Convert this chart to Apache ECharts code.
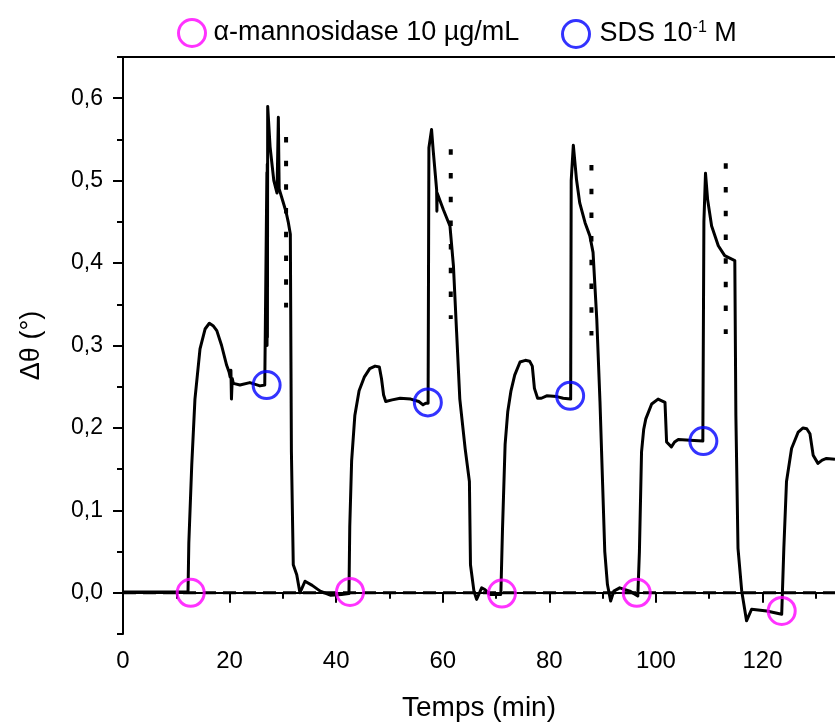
<!DOCTYPE html>
<html>
<head>
<meta charset="utf-8">
<script src="https://cdn.jsdelivr.net/npm/echarts@6/dist/echarts.min.js"></script>
<style>
  html, body { margin: 0; padding: 0; background: #fff; }
  #chart { width: 835px; height: 727px; }
</style>
</head>
<body>
<div id="chart"></div>
<script>
// Courbe SPR : temps (min) / delta theta (deg)
var tempsMin = [
    0, 6, 10, 12.2,
    12.35, 12.9, 13.5, 14.45, 15.4, 16.2, 16.9, 17.6, 18.5, 19.45, 19.9, 20.1, 20.25, 20.35, 20.5, 20.7, 21.95, 23.8, 25.7, 26.6, 26.95,
    27.0, 27.03, 27.07, 27.1, 27.15, 27.6, 28.3, 28.9, 29.15, 29.3, 30.0, 30.6, 31.0, 31.4,
    31.5, 31.6, 31.95, 32.6, 33.2, 34.15, 35.5, 37.0, 39.0, 41.0, 42.4,
    42.55, 42.9, 43.5, 44.3, 45.3, 46.3, 47.3, 48.1, 48.5, 48.9, 49.3, 50.5, 52, 54, 55.5, 56.3, 56.8, 57.25,
    57.4, 57.9, 58.2, 58.85, 58.9, 58.95, 60.1, 61.35, 62.0, 62.6, 63.2, 64.2, 65.0, 65.2, 65.85, 66.35, 67.3, 67.9, 68.85, 70.9,
    71.2, 71.7, 72.2, 72.8, 73.5, 74.5, 75.5, 76.3, 76.8, 77.2, 77.8, 78.5, 79.5, 81.4, 82.6, 84.0,
    84.1, 84.5, 85.1, 85.7, 86.7, 87.6, 88.2, 88.9, 89.5, 90.0, 90.4, 90.9, 91.5, 92.1, 93.2, 95.1, 96.6,
    96.9, 97.3, 97.7, 98.1, 99.2, 100.4, 101.7, 102.0, 102.9, 103.5, 104.2, 106.4, 108.8,
    109.0, 109.3, 109.7, 110.45, 111.7, 112.9, 114.8,
    115.0, 115.4, 116.1, 117.0, 117.95, 120.8, 123.6,
    124.0, 124.5, 125.45, 126.7, 127.6, 128.3, 128.9, 129.5, 130.4, 131.2, 132.0, 133.6
];
var deltaTheta = [
    0.001, 0.001, 0.001, 0.001,
    0.06, 0.155, 0.235, 0.296, 0.32, 0.327, 0.324, 0.318, 0.30, 0.276, 0.268, 0.262, 0.27, 0.235, 0.26, 0.254, 0.252, 0.255, 0.251, 0.252, 0.252,
    0.51, 0.30, 0.52, 0.31, 0.59, 0.541, 0.50, 0.485, 0.577, 0.49, 0.475, 0.462, 0.45, 0.435,
    0.30, 0.171, 0.034, 0.022, 0.0, 0.014, 0.009, 0.002, -0.003, -0.002, -0.001,
    0.08, 0.16, 0.215, 0.245, 0.262, 0.272, 0.275, 0.274, 0.26, 0.24, 0.232, 0.234, 0.236, 0.235, 0.232, 0.228, 0.23, 0.23,
    0.54, 0.562, 0.537, 0.489, 0.463, 0.485, 0.465, 0.445, 0.397, 0.316, 0.235, 0.175, 0.135, 0.034, 0.002, -0.008, 0.006, 0.004, -0.002, -0.002,
    0.075, 0.18, 0.22, 0.245, 0.264, 0.28, 0.282, 0.281, 0.275, 0.248, 0.236, 0.236, 0.239, 0.238, 0.236, 0.235,
    0.50, 0.543, 0.501, 0.473, 0.449, 0.433, 0.413, 0.332, 0.232, 0.131, 0.05, 0.01, -0.01, 0.002, 0.006, 0.002, -0.004,
    0.05, 0.171, 0.198, 0.211, 0.229, 0.235, 0.231, 0.183, 0.177, 0.183, 0.186, 0.185, 0.184,
    0.45, 0.509, 0.477, 0.445, 0.421, 0.409, 0.403,
    0.215, 0.054, 0.002, -0.034, -0.02, -0.022, -0.026,
    0.054, 0.135, 0.175, 0.195, 0.20, 0.199, 0.193, 0.167, 0.157, 0.161, 0.163, 0.162
];

// injections (cercles)
var mannoX = [12.7, 42.6, 71.1, 96.4, 123.6];
var mannoY = [0.0, 0.001, -0.001, 0.0, -0.022];
var sdsX = [26.95, 57.2, 83.9, 108.9];
var sdsY = [0.252, 0.231, 0.239, 0.184];

// lignes pointillees verticales
var dotX = [30.6, 61.5, 87.9, 113.1];
var dotTop = [0.553, 0.538, 0.519, 0.521];
var dotBottom = [0.346, 0.332, 0.312, 0.314];

// graduations
var xMajorTicks = [0, 20, 40, 60, 80, 100, 120];
var xMinorTicks = [10, 30, 50, 70, 90, 110, 130];
var yMajorTicks = [0, 0.1, 0.2, 0.3, 0.4, 0.5, 0.6];
var yMinorTicks = [-0.05, 0.05, 0.15, 0.25, 0.35, 0.45, 0.55, 0.65];

var X_MAX = 133.6;
var FONT = 'Arial, "Liberation Sans", sans-serif';

var nomManno = 'α-mannosidase 10 µg/mL';
var nomSds = 'SDS 10-1 M';

var courbe = tempsMin.map(function (t, i) { return [t, deltaTheta[i]]; });
var mannoData = mannoX.map(function (x, i) { return [x, mannoY[i]]; });
var sdsData = sdsX.map(function (x, i) { return [x, sdsY[i]]; });

var dotSeries = dotX.map(function (x, i) {
    return {
        type: 'line',
        data: [[x, dotTop[i]], [x, dotBottom[i]]],
        symbol: 'none',
        silent: true,
        z: 3,
        lineStyle: { color: '#000', width: 4, type: [5.5, 18.2], cap: 'butt' }
    };
});

var chart = echarts.init(document.getElementById('chart'));

var axeX = {
    type: 'value',
    min: 0,
    max: X_MAX,
    position: 'bottom',
    splitLine: { show: false }
};
var axeY = {
    type: 'value',
    min: -0.05,
    max: 0.65,
    position: 'left',
    splitLine: { show: false }
};

var options = {
    animation: false,
    backgroundColor: '#fff',
    grid: { left: 123, right: 0, top: 57, bottom: 90, containLabel: false },
    legend: [
        {
            left: 172, top: 13,
            itemWidth: 27, itemHeight: 27,
            selectedMode: false,
            textStyle: { fontSize: 27, color: '#000', fontFamily: FONT, padding: [0, 0, 0, 3] },
            data: [{ name: nomManno, icon: 'circle',
                itemStyle: { color: 'rgba(0,0,0,0)', borderColor: '#ff00ff', borderWidth: 3 } }]
        },
        {
            left: 556, top: 14,
            itemWidth: 27, itemHeight: 27,
            selectedMode: false,
            formatter: function () { return 'SDS 10{sup|-1} M'; },
            textStyle: {
                fontSize: 27, color: '#000', fontFamily: FONT, padding: [0, 0, 0, 5],
                rich: { sup: { fontSize: 16, color: '#000', fontFamily: FONT, verticalAlign: 'top', padding: [0, 0, 12, 0] } }
            },
            data: [{ name: nomSds, icon: 'circle',
                itemStyle: { color: 'rgba(0,0,0,0)', borderColor: '#0000ff', borderWidth: 3 } }]
        }
    ],
    xAxis: [
        Object.assign({}, axeX, {
            name: 'Temps (min)',
            nameLocation: 'middle',
            nameGap: 60,
            nameTextStyle: { fontSize: 28, color: '#000', fontFamily: FONT },
            axisLine: { show: true, lineStyle: { color: '#000', width: 2 } },
            axisTick: { show: true, inside: false, length: 10, customValues: xMajorTicks,
                lineStyle: { color: '#000', width: 2 } },
            axisLabel: { show: true, customValues: xMajorTicks, margin: 15, fontSize: 24,
                color: '#000', fontFamily: FONT }
        }),
        Object.assign({}, axeX, {
            axisLine: { show: false },
            axisTick: { show: true, inside: false, length: 6, customValues: xMinorTicks,
                lineStyle: { color: '#000', width: 2 } },
            axisLabel: { show: false }
        }),
        Object.assign({}, axeX, {
            position: 'top',
            axisLine: { show: true, lineStyle: { color: '#000', width: 2 } },
            axisTick: { show: false },
            axisLabel: { show: false }
        })
    ],
    yAxis: [
        Object.assign({}, axeY, {
            name: 'Δθ (°)',
            nameLocation: 'middle',
            nameGap: 78,
            nameRotate: 90,
            nameTextStyle: { fontSize: 27, color: '#000', fontFamily: FONT },
            axisLine: { show: true, lineStyle: { color: '#000', width: 2 } },
            axisTick: { show: true, inside: false, length: 10, customValues: yMajorTicks,
                lineStyle: { color: '#000', width: 2 } },
            axisLabel: {
                show: true, customValues: yMajorTicks, margin: 20, fontSize: 23,
                color: '#000', fontFamily: FONT,
                formatter: function (v) { return Math.abs(v).toFixed(1).replace('.', ','); }
            }
        }),
        Object.assign({}, axeY, {
            axisLine: { show: false },
            axisTick: { show: true, inside: false, length: 6, customValues: yMinorTicks,
                lineStyle: { color: '#000', width: 2 } },
            axisLabel: { show: false }
        })
    ],
    series: [
        {
            type: 'line',
            data: [[0, 0], [X_MAX, 0]],
            symbol: 'none',
            silent: true,
            z: 1,
            lineStyle: { color: '#000', width: 3, type: [13, 7], cap: 'butt' }
        },
        {
            name: 'signal',
            type: 'line',
            data: courbe,
            symbol: 'none',
            z: 4,
            lineStyle: { color: '#000', width: 3, join: 'round' }
        }
    ].concat(dotSeries).concat([
        {
            name: nomManno,
            type: 'scatter',
            data: mannoData,
            symbol: 'circle',
            symbolSize: 27,
            z: 6,
            itemStyle: { color: 'rgba(0,0,0,0)', borderColor: '#ff00ff', borderWidth: 3 }
        },
        {
            name: nomSds,
            type: 'scatter',
            data: sdsData,
            symbol: 'circle',
            symbolSize: 27,
            z: 6,
            itemStyle: { color: 'rgba(0,0,0,0)', borderColor: '#0000ff', borderWidth: 3 }
        }
    ])
};

chart.setOption(options);
</script>
</body>
</html>
